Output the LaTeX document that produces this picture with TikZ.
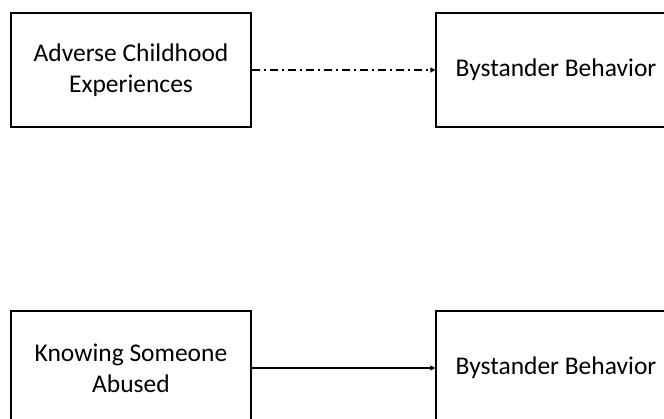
\documentclass[tikz,border=0pt]{standalone}
\usepackage{fontspec}
\setmainfont{Carlito}
\usetikzlibrary{arrows.meta}
\begin{document}
\begin{tikzpicture}[x=1pt,y=1pt,
  boxnode/.style={draw=black, line width=1.2pt, minimum width=240pt, minimum height=114pt,
    inner sep=0pt, align=center, font=\fontsize{25.5}{31}\selectfont},
  conn/.style={line width=1.2pt, -{Triangle[length=5pt,width=5pt]}}]
\clip (0,0) rectangle (664,419);
\useasboundingbox (0,0) rectangle (664,419);
\node[boxnode] (ace) at (131,349) {Adverse Childhood\\Experiences};
\node[boxnode] (bb1) at (556,349) {Bystander Behavior};
\node[boxnode] (kso) at (131,51) {Knowing Someone\\Abused};
\node[boxnode] (bb2) at (556,51) {Bystander Behavior};
\draw[conn, dash pattern=on 8pt off 4pt on 2pt off 4pt] (ace.east) -- (bb1.west);
\draw[conn] (kso.east) -- (bb2.west);
\end{tikzpicture}
\end{document}
